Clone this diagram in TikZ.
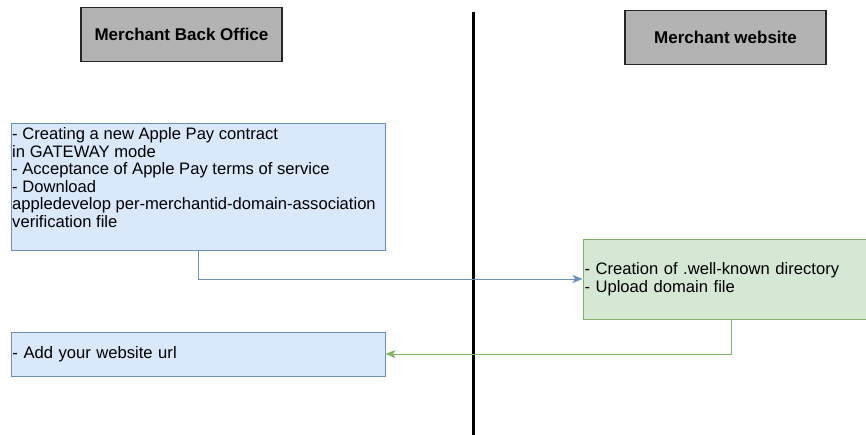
\documentclass[tikz,border=0pt]{standalone}
\usepackage{fontspec}
\setmainfont{Liberation Sans}
\usetikzlibrary{arrows.meta}
\definecolor{bfill}{HTML}{DAE8FC}
\definecolor{bdraw}{HTML}{6C8EBF}
\definecolor{gfill}{HTML}{D5E8D4}
\definecolor{gdraw}{HTML}{82B366}
\definecolor{hfill}{HTML}{B3B3B3}
\tikzset{
  hdr/.style={draw=black!85, fill=hfill, line width=1.2pt, minimum width=201pt, minimum height=54pt, inner sep=0pt, font=\fontsize{17}{20}\selectfont\bfseries},
  boxtext/.style={inner sep=0pt, align=left, font=\fontsize{16.6}{17.6}\selectfont},
  bluebox/.style={draw=bdraw, fill=bfill, line width=0.9pt, inner xsep=1.5pt, inner ysep=0pt, align=left, font=\fontsize{16.6}{17.6}\selectfont},
  greenbox/.style={draw=gdraw, fill=gfill, line width=0.9pt, inner xsep=1.5pt, inner ysep=0pt, align=left, font=\fontsize{16.6}{17.6}\selectfont},
  conn/.style={line width=0.9pt, -{Stealth[length=10pt,width=8pt,inset=2.5pt]}}
}
\begin{document}
\begin{tikzpicture}[x=1pt,y=-1pt]
\useasboundingbox (0,0) rectangle (866,435);
\node[hdr] (h1) at (181.5,34.5) {Merchant Back Office};
\node[hdr] (h2) at (725.5,37.5) {Merchant website};
\coordinate (vtop) at (473,12);
\coordinate (vbot) at (473,435);
\draw[line width=3pt] (vtop) -- (vbot);
\node[bluebox, minimum width=374pt, minimum height=127pt] (b1) at (198,186.5) {};
\node[boxtext, anchor=west] (t1) at ([xshift=1.5pt,yshift=9pt]b1.west)
  {- Creating a new Apple Pay contract\\in GATEWAY mode\\- Acceptance of Apple Pay terms of service\\- Download\\appledevelop per-merchantid-domain-association\\verification file};
\node[greenbox, text width=293pt, minimum height=80pt] (g1) at (731,279)
  {- Creation of .well-known directory\\- Upload domain file};
\node[bluebox, text width=371pt, minimum height=44pt] (b2) at (198,354)
  {- Add your website url};
\draw[conn, draw=bdraw] (b1.south) |- (g1.west);
\draw[conn, draw=gdraw] (g1.south) |- (b2.east);
\end{tikzpicture}
\end{document}
